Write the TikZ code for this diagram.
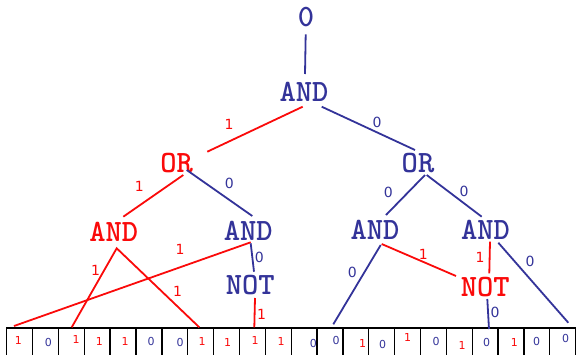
\documentclass[tikz,border=0pt]{standalone}
\usepackage{fontspec}
\newfontfamily\digitfont{DejaVu Sans}
\usetikzlibrary{calc}
\definecolor{gblue}{RGB}{51,51,153}
\definecolor{gred}{RGB}{250,10,10}
\tikzset{
  gate/.style={inner sep=0pt, font=\fontsize{31}{31}\ttfamily\bfseries},
  bluegate/.style={gate, text=gblue},
  redgate/.style={gate, text=gred},
  wire/.style={line width=1.8pt},
  bwire/.style={wire, draw=gblue},
  rwire/.style={wire, draw=gred},
  elab/.style={inner sep=0pt, font=\fontsize{14}{14}\digitfont},
  belab/.style={elab, text=gblue},
  relab/.style={elab, text=gred},
  cell/.style={draw=black, line width=1.3pt},
  bit/.style={inner sep=0pt, font=\fontsize{11}{11}\digitfont}
}
\begin{document}
\begin{tikzpicture}[x=1pt,y=-1pt]
\useasboundingbox (0,0) rectangle (576,354);
\clip (0,0) rectangle (576,354);
% gates
\node[bluegate] (top) at (306,17.5) {0};
\node[bluegate] (root) at (304,92) {AND};
\node[redgate] (orL) at (176.7,163) {OR};
\node[bluegate] (orR) at (418,163) {OR};
\node[redgate] (aLL) at (113.7,231.7) {AND};
\node[bluegate] (aLR) at (248.3,231) {AND};
\node[bluegate] (notL) at (250.3,285) {NOT};
\node[bluegate] (aRL) at (375,230) {AND};
\node[bluegate] (aRR) at (485.5,230) {AND};
\node[redgate] (notR) at (485.3,286.7) {NOT};
% cells
\foreach \i in {0,...,21} {
  \draw[cell] ({6.7+25.86*\i},328) rectangle ({6.7+25.86*(\i+1)},358);
}
% cell end points
\coordinate (c1) at (14,326);
\coordinate (c3) at (71.7,327.3);
\coordinate (c8) at (199.3,327.3);
\coordinate (c10) at (254.3,327.3);
\coordinate (c13) at (333.3,324.3);
\coordinate (c19) at (489,329);
\coordinate (c22) at (568.3,322.7);
% wires
\draw[bwire] ([shift={(-0.3,16.8)}]top.center) -- ([shift={(1,-18)}]root.center);
\draw[rwire] ([shift={(-1.3,14.7)}]root.center) -- ([shift={(30.6,-11.3)}]orL.center);
\draw[bwire] ([shift={(17.7,14.7)}]root.center) -- ([shift={(-3,-13)}]orR.center);
\draw[rwire] ([shift={(6.6,12)}]orL.center) -- ([shift={(9.6,-15)}]aLL.center);
\draw[bwire] ([shift={(10,7)}]orL.center) -- ([shift={(4,-15)}]aLR.center);
\draw[bwire] ([shift={(7,12)}]orR.center) -- ([shift={(11,-15)}]aRL.center);
\draw[bwire] ([shift={(8.7,12)}]orR.center) -- ([shift={(-3.8,-13.3)}]aRR.center);
\draw[rwire] (c3) -- ([shift={(3,16.6)}]aLL.center) -- (c8);
\draw[rwire] ([shift={(2.4,11.3)}]aLR.center) -- (c1);
\draw[bwire] ([shift={(2.4,12.3)}]aLR.center) -- ([shift={(3.7,-13.3)}]notL.center);
\draw[rwire] ([shift={(4.7,13)}]notL.center) -- (c10);
\draw[bwire] ([shift={(5.7,15)}]aRL.center) -- (c13);
\draw[rwire] ([shift={(6.7,14)}]aRL.center) -- ([shift={(-29.3,-10.7)}]notR.center);
\draw[rwire] ([shift={(4.5,11.7)}]aRR.center) -- ([shift={(4,-13.4)}]notR.center);
\draw[bwire] ([shift={(12.8,12.7)}]aRR.center) -- (c22);
\draw[bwire] ([shift={(2,12.3)}]notR.center) -- (c19);
% edge labels
\node[relab] (l1) at (229,124) {1};
\node[belab] (l2) at (377,122) {0};
\node[relab] (l3) at (139.3,186) {1};
\node[belab] (l4) at (229.3,183.3) {0};
\node[belab] (l5) at (388.3,192.7) {0};
\node[belab] (l6) at (464,191.7) {0};
\node[relab] (l7) at (95.7,270) {1};
\node[relab] (l8) at (177.7,291) {1};
\node[relab] (l9) at (180,249.3) {1};
\node[belab] (l10) at (259.3,257.3) {0};
\node[relab] (l11) at (261.7,314) {1};
\node[belab] (l12) at (352.3,272.3) {0};
\node[relab] (l13) at (423.3,254.3) {1};
\node[relab] (l14) at (480,257.3) {1};
\node[belab] (l15) at (530,261.7) {0};
\node[belab] (l16) at (495,312.7) {0};
% bits
\foreach \x/\y/\v/\c [count=\k] in {
 18.3/340.7/1/gred, 48.3/342.7/0/gblue, 76/339/1/gred, 99.3/341.7/1/gred,
 125/341.7/1/gred, 151/341.7/0/gblue, 180/342.7/0/gblue, 202/341.7/1/gred,
 227.7/342.7/1/gred, 255/340/1/gred, 281/341.7/1/gred, 313.3/343.3/0/gblue,
 336/340.7/0/gblue, 362.7/343.3/1/gred, 382.7/344/0/gblue, 407.7/337.7/1/gred,
 436/341.7/0/gblue, 462/345/1/gred, 486.7/342.7/0/gblue, 514.3/342.7/1/gred,
 536.7/341/0/gblue, 565.7/338.3/0/gblue} {
  \node[bit, text=\c] (b\k) at (\x,\y) {\v};
}
\end{tikzpicture}
\end{document}
